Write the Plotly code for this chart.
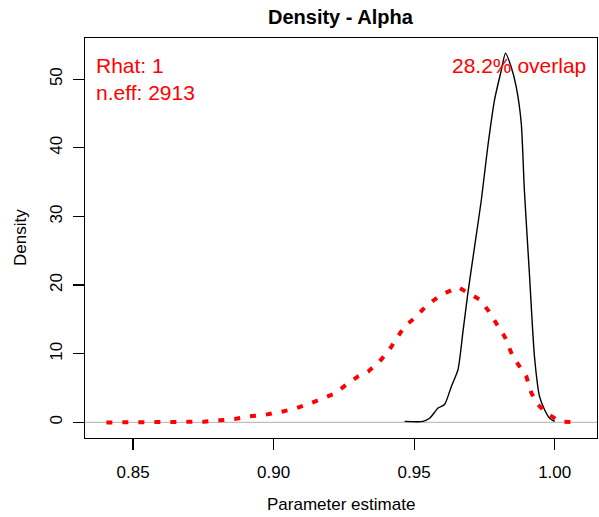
import plotly.graph_objects as go

# prior density (red dotted)
prior_x = [0.8405, 0.847, 0.8524, 0.8583, 0.8637, 0.8693, 0.8751, 0.8808, 0.8862,
           0.8915, 0.8968, 0.9022, 0.9075, 0.9126, 0.9176, 0.9217, 0.9259, 0.9300,
           0.9336, 0.9377, 0.9407, 0.9437, 0.9466, 0.9502, 0.9537, 0.9573, 0.9608,
           0.9656, 0.9697, 0.9733, 0.9762, 0.9792, 0.9822, 0.9851, 0.9875, 0.9899,
           0.9917, 0.9940, 0.9970, 1.0017, 1.0077]
prior_y = [0.0, 0.0, 0.0, 0.0, 0.1, 0.1, 0.1, 0.3, 0.5,
           0.9, 1.1, 1.5, 2.0, 2.7, 3.55, 4.2, 5.5, 6.7,
           7.4, 8.9, 10.3, 12.1, 14.0, 15.2, 16.7, 17.9, 18.8,
           19.7, 18.8, 17.9, 16.4, 14.5, 12.5, 9.6, 8.2, 6.7,
           4.3, 2.6, 1.4, 0.15, 0.0]

# posterior density (black solid)
post_x = [0.9466, 0.9531, 0.9555, 0.9585, 0.9608, 0.9632, 0.9656, 0.9673, 0.9691,
          0.9715, 0.9739, 0.9762, 0.9786, 0.9810, 0.9825, 0.9845, 0.9863, 0.9881,
          0.9892, 0.9910, 0.9928, 0.9946, 0.9964, 0.9982, 1.0000]
post_y = [0.15, 0.15, 0.6, 2.1, 2.6, 5.2, 7.7, 13.0, 18.8,
          25.6, 32.4, 40.2, 47.0, 51.3, 53.8, 51.8, 48.9, 43.6,
          33.9, 21.7, 9.6, 3.8, 1.85, 0.6, 0.15]

x_ticks = [0.85, 0.90, 0.95, 1.00]
x_labels = ["0.85", "0.90", "0.95", "1.00"]
y_ticks = [0, 10, 20, 30, 40, 50]

title = "Density - Alpha"
stats_text = "Rhat: 1<br>n.eff: 2913"
overlap_text = "28.2% overlap"

font = "Liberation Sans, Arial, sans-serif"

fig = go.Figure()

fig.add_trace(go.Scatter(x=post_x, y=post_y, mode="lines", line_shape="spline",
                         line=dict(color="black", width=1.4, smoothing=0.6),
                         hoverinfo="skip"))
fig.add_trace(go.Scatter(x=prior_x, y=prior_y, mode="lines",
                         line=dict(color="#FF0000", width=4, dash="6px,10px"),
                         hoverinfo="skip"))

# grey zero line
fig.add_shape(type="line", xref="paper", yref="y", x0=0, x1=1, y0=0, y1=0,
              line=dict(color="#BEBEBE", width=1.2), layer="below")

fig.update_layout(
    width=599, height=517,
    margin=dict(l=85, r=2, t=38, b=79),
    plot_bgcolor="white", paper_bgcolor="white",
    showlegend=False,
    hovermode=False,
    font=dict(family=font, size=17, color="black"),
    xaxis=dict(range=[0.8329, 1.01505], tickvals=x_ticks, ticktext=x_labels,
               ticks="outside", ticklen=11, tickwidth=1.3, tickcolor="black",
               showline=True, linecolor="black", linewidth=1.3, mirror=True,
               showgrid=False, zeroline=False, tickfont=dict(size=17),
               ticklabelstandoff=7),
    yaxis=dict(range=[-2.27, 56.0], tickvals=y_ticks,
               ticks="outside", ticklen=11, tickwidth=1.3, tickcolor="black",
               showline=True, linecolor="black", linewidth=1.3, mirror=True,
               showgrid=False, zeroline=False, tickangle=-90, tickfont=dict(size=17),
               ticklabelstandoff=4),
)

fig.add_annotation(text="<b>" + title + "</b>", xref="paper", yref="paper",
                   x=0.5, y=1, yshift=21, showarrow=False,
                   font=dict(size=20, color="black"), yanchor="middle")
fig.add_annotation(text="Parameter estimate", xref="paper", yref="paper",
                   x=0.5, y=0, yshift=-66, showarrow=False,
                   font=dict(size=17), yanchor="middle")
fig.add_annotation(text="Density", xref="paper", yref="paper",
                   x=0, y=0.5, xshift=-65, showarrow=False, textangle=-90,
                   font=dict(size=17), xanchor="center")
fig.add_annotation(text=stats_text, xref="paper", yref="paper",
                   x=0, y=1, xshift=9, yshift=-14, showarrow=False,
                   align="left", xanchor="left", yanchor="top",
                   font=dict(size=21, color="#FF0000"))
fig.add_annotation(text=overlap_text, xref="paper", yref="paper",
                   x=1, y=1, xshift=-9, yshift=-14, showarrow=False,
                   align="right", xanchor="right", yanchor="top",
                   font=dict(size=21, color="#FF0000"))

fig.write_html("out.html", config={"displayModeBar": False, "staticPlot": True},
               post_script="document.body.style.margin='0';"
                           "document.body.style.overflow='hidden';")
